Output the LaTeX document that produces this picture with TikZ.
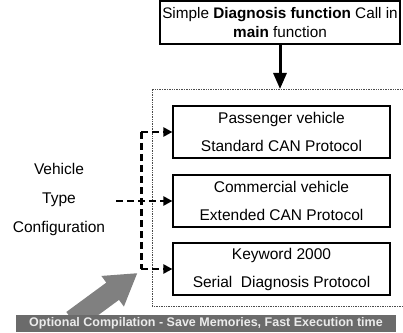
\documentclass[tikz,border=0pt]{standalone}
\usepackage{fontspec}
\setmainfont{Liberation Sans}
\usetikzlibrary{calc,arrows.meta,shapes.arrows}

\tikzset{
    protobox/.style={draw, line width=1.2pt, minimum width=217pt, minimum height=52pt,
        inner sep=0pt, align=center, font=\fontsize{15.5}{28}\selectfont},
    selline/.style={line width=2.2pt, dash pattern=on 7pt off 4pt,
        -{Triangle[length=9pt,width=9pt]}},
}

\begin{document}
\begin{tikzpicture}[x=1pt,y=1pt]

    \useasboundingbox (0,0) rectangle (403,332);

    % Call box at the top
    \node[draw, line width=1.2pt, minimum width=240pt, minimum height=43pt, inner sep=1pt,
        align=center, font=\fontsize{15.3}{19}\selectfont] (call) at (280,309.5)
        {Simple \textbf{Diagnosis function} Call in\\\textbf{main} function};

    % Dotted frame round the protocol boxes (open on the right)
    \coordinate (fNE) at (404,243);
    \coordinate (fNW) at (152,243);
    \coordinate (fSW) at (152,26);
    \coordinate (fSE) at (404,26);
    \draw[densely dotted, line width=0.7pt, black!70] (fNE) -- (fNW) -- (fSW) -- (fSE);

    % Call arrow into the frame
    \draw[line width=3pt, -{Triangle[length=16pt,width=13pt]}] (call.south) -- (call.south |- fNW);

    % Protocol boxes
    \node[protobox] (pass) at (281.5,200) {Passenger vehicle\\Standard CAN Protocol};
    \node[protobox] (comm) at (281.5,131) {Commercial vehicle\\Extended CAN Protocol};
    \node[protobox] (kwp)  at (281.5,63)  {Keyword 2000\\Serial~ Diagnosis Protocol};

    % Configuration label
    \node[align=center, font=\fontsize{15.5}{29}\selectfont] (config) at (59,133)
        {Vehicle\\Type\\Configuration};

    % Selection lines
    \coordinate (busTop) at ($(pass.west)+(-31,0)$);
    \coordinate (busBot) at ($(kwp.west)+(-31,0)$);
    \coordinate (cfgEnd) at ($(comm.west)+(-56,0)$);
    \draw[selline, -] (busTop) -- (busBot);
    \draw[selline] (busTop) -- (pass.west);
    \draw[selline] (busBot) -- (kwp.west);
    \draw[selline] (cfgEnd) -- (comm.west);

    % Wide grey arrow up from the bar (shaft width from inner sep)
    \node[single arrow, fill=black!50, draw=none, rotate=36.3,
        minimum height=80pt, minimum width=38pt, inner xsep=0pt, inner ysep=9pt,
        single arrow tip angle=64] (optarrow) at (98,30) {};

    % Bar at the bottom
    \node[fill=black!58, minimum width=380pt, minimum height=17pt, inner sep=0pt,
        text=white!92!black, font=\fontsize{12.5}{13}\selectfont\bfseries] (banner) at (206,8.5)
        {Optional Compilation - Save Memories, Fast Execution time};

\end{tikzpicture}
\end{document}
